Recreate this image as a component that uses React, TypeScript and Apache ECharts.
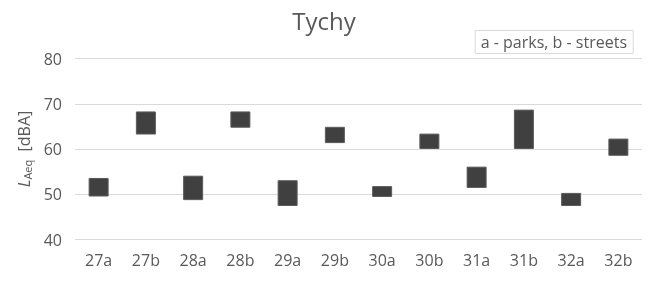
import React, { useEffect, useRef } from "react";
import * as echarts from "echarts";

const categories = ["27a", "27b", "28a", "28b", "29a", "29b", "30a", "30b", "31a", "31b", "32a", "32b"];
const lowValues = [49.5, 63.2, 48.7, 64.7, 47.4, 61.3, 49.4, 60.0, 51.4, 60.0, 47.4, 58.5];
const highValues = [53.6, 68.3, 54.1, 68.3, 53.1, 64.9, 51.8, 63.4, 56.1, 68.7, 50.3, 62.3];
const yTicks = { min: 40, max: 80, interval: 10 };

const FONT = "'Open Sans', sans-serif";
const GRAY = "#595959";

export default function App() {
  const ref = useRef<HTMLDivElement>(null);
  useEffect(() => {
    if (!ref.current) return;
    const chart = echarts.init(ref.current, null, { renderer: "svg" });
    const spans = highValues.map((h, i) => +(h - lowValues[i]).toFixed(2));
    chart.setOption({
      animation: false,
      textStyle: { fontFamily: FONT },
      title: [
        {
          text: "Tychy",
          left: "center",
          top: 3,
          textStyle: { fontFamily: FONT, fontSize: 24, fontWeight: "normal", color: GRAY },
        },
        {
          text: "a - parks, b - streets",
          right: 15,
          top: 30,
          padding: [1, 6, 1, 6],
          borderColor: "#d9d9d9",
          borderWidth: 1,
          textStyle: { fontFamily: FONT, fontSize: 16, fontWeight: "normal", color: GRAY, lineHeight: 22 },
        },
      ],
      grid: { left: 75, right: 6, top: 58.5, bottom: 42.5, containLabel: false },
      xAxis: {
        type: "category",
        data: categories,
        axisLine: { show: false },
        axisTick: { show: false },
        axisLabel: { color: GRAY, fontSize: 16, fontFamily: FONT, margin: 12 },
      },
      yAxis: {
        type: "value",
        min: yTicks.min,
        max: yTicks.max,
        interval: yTicks.interval,
        axisLine: { show: false },
        axisTick: { show: false },
        splitLine: { lineStyle: { color: "#d9d9d9", width: 1 } },
        axisLabel: { color: GRAY, fontSize: 16, fontFamily: FONT, margin: 13 },
        name: "{i|L}{s|Aeq}{n|  [dBA]}",
        nameLocation: "middle",
        nameRotate: 90,
        nameGap: 39,
        nameTextStyle: {
          color: GRAY,
          fontFamily: FONT,
          rich: {
            i: { fontSize: 16, fontStyle: "italic", color: GRAY, fontFamily: FONT },
            s: { fontSize: 11, color: GRAY, fontFamily: FONT, padding: [7, 0, 0, 0] },
            n: { fontSize: 16, color: GRAY, fontFamily: FONT },
          },
        },
      },
      series: [
        {
          type: "bar",
          stack: "range",
          data: lowValues,
          barWidth: 20,
          itemStyle: { color: "transparent" },
          silent: true,
        },
        {
          type: "bar",
          stack: "range",
          data: spans,
          barWidth: 20,
          itemStyle: { color: "#404040", borderColor: "#5a5a5a", borderWidth: 1 },
        },
      ],
    });
    return () => chart.dispose();
  }, []);
  return <div ref={ref} style={{ position: "fixed", left: 0, top: 0, width: 648, height: 282 }} />;
}
